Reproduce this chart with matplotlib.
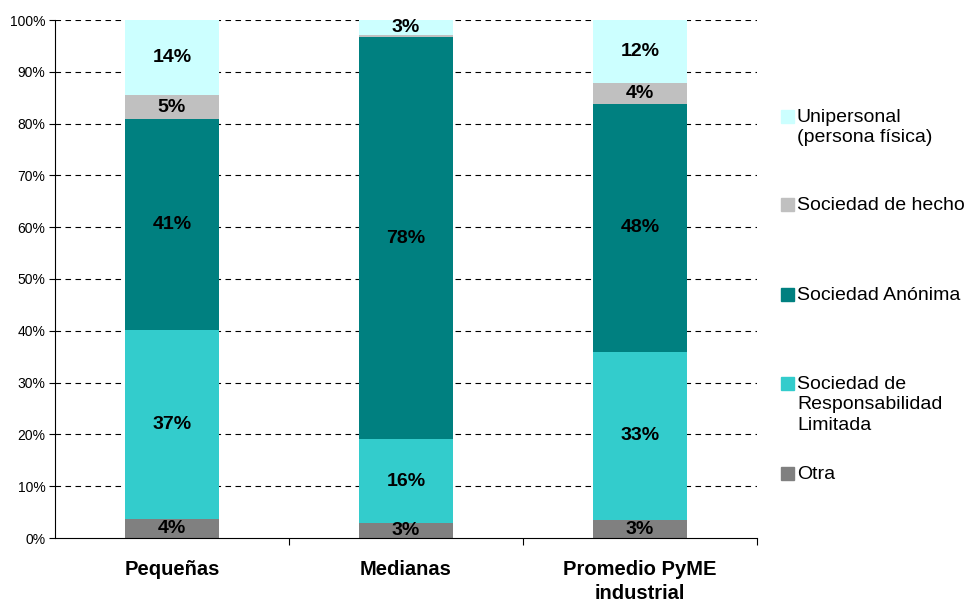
import numpy as np
import matplotlib.pyplot as plt
from matplotlib.patches import Rectangle

plt.rcParams['font.family'] = ['Liberation Sans', 'DejaVu Sans']

# Tipo societario por tamaño de empresa (%)
categorias = ['Pequeñas', 'Medianas', 'Promedio PyME\nindustrial']
series = ['Otra', 'Sociedad de\nResponsabilidad\nLimitada', 'Sociedad Anónima',
          'Sociedad de hecho', 'Unipersonal\n(persona física)']
otra = [3.6, 2.9, 3.4]
srl = [36.6, 16.2, 32.6]
anonima = [40.6, 77.6, 47.8]
hecho = [4.8, 0.4, 4.0]
unipersonal = [14.4, 2.9, 12.2]
colores = ['#808080', '#33CCCC', '#008080', '#C0C0C0', '#CCFFFF']

valores = [otra, srl, anonima, hecho, unipersonal]

fig = plt.figure(figsize=(9.65, 6.03), dpi=100)
ax = fig.add_axes([55/965, 65/603, 702/965, 518/603])

x = np.arange(len(categorias))
base = np.zeros(len(categorias))
for vals, col in zip(valores, colores):
    vals = np.array(vals)
    ax.bar(x, vals, width=0.405, bottom=base, color=col, zorder=2)
    for xi, b, v in zip(x, base, vals):
        if v >= 1:
            ax.text(xi, b + v / 2, f'{v:.0f}%', ha='center', va='center',
                    fontsize=14, fontweight='bold', zorder=3)
    base += vals

ax.set_xlim(-0.5, 2.5)
ax.set_ylim(0, 100)
ax.set_yticks(np.arange(0, 101, 10))
ax.set_yticklabels([f'{t}%' for t in range(0, 101, 10)], fontsize=10)
ax.tick_params(axis='y', length=4, width=0.8, pad=3)

# categorias: marcas en los limites, texto centrado
ax.set_xticks([0.5, 1.5, 2.5])
ax.set_xticklabels([])
ax.tick_params(axis='x', length=5, width=0.8, direction='out')
for xi, lab in zip(x, categorias):
    ax.text(xi, -4.3, lab, ha='center', va='top', fontsize=14.5,
            fontweight='bold', linespacing=1.3)

for y in range(10, 101, 10):
    ax.axhline(y, color='black', lw=0.8, ls=(0, (5, 4)), zorder=1)

ax.spines['top'].set_visible(False)
ax.spines['right'].set_visible(False)
ax.spines['left'].set_linewidth(0.8)
ax.spines['bottom'].set_linewidth(0.8)

# leyenda manual, de arriba hacia abajo
ley_y = [116, 204, 294, 383, 473]
for (nombre, col), yy in zip(list(zip(series, colores))[::-1], ley_y):
    fig.patches.append(Rectangle((781/965, (603 - yy - 6.5)/603), 13/965, 13/603,
                                 transform=fig.transFigure, color=col))
    fig.text(797/965, (603 - yy + 7)/603, nombre, ha='left', va='top',
             fontsize=14, linespacing=1.25)

fig.savefig('out.png', dpi=100)
